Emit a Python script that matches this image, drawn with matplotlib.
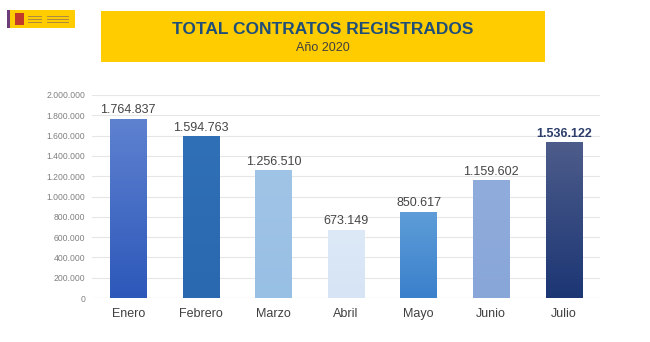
import matplotlib
matplotlib.use("Agg")
import matplotlib.pyplot as plt
import matplotlib.patches as mpatches
import numpy as np
from matplotlib.colors import LinearSegmentedColormap

meses = ["Enero", "Febrero", "Marzo", "Abril", "Mayo", "Junio", "Julio"]
contratos = [1764837, 1594763, 1256510, 673149, 850617, 1159602, 1536122]
yticks = list(range(0, 2000001, 200000))

top_colors = ["#5f82d0", "#3070b6", "#a0c4e6", "#dde9f7", "#5e9dd8", "#90acdc", "#4d5c8a"]
bot_colors = ["#2d58ba", "#2a68b0", "#98bfe4", "#d6e4f5", "#3a80cb", "#89a6d9", "#1c3674"]

def fmt(v):
    return f"{v:,}".replace(",", ".")

fig = plt.figure(figsize=(6.5, 3.42), dpi=100)
fig.patch.set_facecolor("white")

W, H = 650, 342
def fx(px): return px / W
def fy(py): return 1 - py / H

# Banner
fig.patches.append(mpatches.Rectangle((fx(101), fy(62)), fx(545) - fx(101), fy(11) - fy(62),
                                      transform=fig.transFigure, facecolor="#ffcc00", edgecolor="none", zorder=0))
fig.text(fx(323), fy(30), "TOTAL CONTRATOS REGISTRADOS", ha="center", va="center",
         fontsize=12.5, fontweight="bold", color="#1f4e79", family="Liberation Sans")
fig.text(fx(323), fy(48), "Año 2020", ha="center", va="center",
         fontsize=9, color="#404040", family="Liberation Sans")

# Logo
fig.patches.append(mpatches.Rectangle((fx(7), fy(28)), fx(68), fy(10) - fy(28),
                                      transform=fig.transFigure, facecolor="#ffcc00", edgecolor="none"))
fig.patches.append(mpatches.Rectangle((fx(7), fy(28)), fx(3), fy(10) - fy(28),
                                      transform=fig.transFigure, facecolor="#6a3d7a", edgecolor="none"))
fig.patches.append(mpatches.Rectangle((fx(15), fy(25)), fx(9), fy(13) - fy(25),
                                      transform=fig.transFigure, facecolor="#c0392b", edgecolor="none"))
for yy in (16, 19, 22):
    fig.patches.append(mpatches.Rectangle((fx(28), fy(yy + 1)), fx(14), fy(yy) - fy(yy + 1),
                                          transform=fig.transFigure, facecolor="#b08a40", edgecolor="none"))
    fig.patches.append(mpatches.Rectangle((fx(47), fy(yy + 1)), fx(22), fy(yy) - fy(yy + 1),
                                          transform=fig.transFigure, facecolor="#b08a40", edgecolor="none"))

ax = fig.add_axes([fx(92), fy(298), fx(600) - fx(92), fy(95) - fy(298)])
ax.set_facecolor("white")
x = np.arange(len(meses))
bars = ax.bar(x, contratos, width=0.5, color="none", edgecolor="none", zorder=3)

grad = np.linspace(0, 1, 256).reshape(-1, 1)
for b, ct, cb in zip(bars, top_colors, bot_colors):
    cmap = LinearSegmentedColormap.from_list("g", [cb, ct])
    x0, y0 = b.get_x(), b.get_y()
    w, h = b.get_width(), b.get_height()
    im = ax.imshow(grad, extent=[x0, x0 + w, y0, y0 + h], origin="lower",
                   cmap=cmap, aspect="auto", zorder=3)
    im.set_clip_path(b)

for i, (xi, v) in enumerate(zip(x, contratos)):
    last = i == len(meses) - 1
    ax.text(xi, v + 25000, fmt(v), ha="center", va="bottom",
            fontsize=9, fontweight="bold" if last else "normal",
            color="#2b3d6b" if last else "#454545", family="Liberation Sans", zorder=4)

ax.set_xlim(-0.5, len(meses) - 0.5)
ax.set_ylim(0, 2000000)
ax.set_yticks(yticks)
ax.set_yticklabels([fmt(t) for t in yticks], fontsize=6.2, color="#808080", family="Liberation Sans")
ax.set_xticks(x)
ax.set_xticklabels(meses, fontsize=9, color="#404040", family="Liberation Sans")
ax.tick_params(axis="both", length=0)
ax.tick_params(axis="y", pad=5)
ax.tick_params(axis="x", pad=7)
ax.grid(axis="y", color="#e6e6e6", linewidth=0.8, zorder=0)
for s in ax.spines.values():
    s.set_visible(False)
ax.axhline(0, color="#d9d9d9", linewidth=0.8, zorder=2)

fig.savefig("out.png", dpi=100, facecolor="white")
